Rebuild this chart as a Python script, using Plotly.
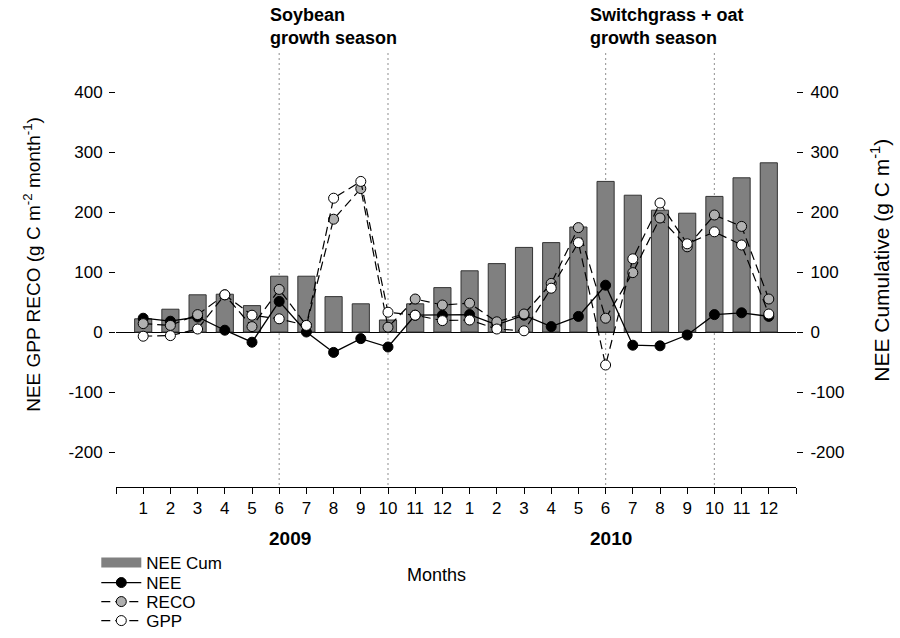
import plotly.graph_objects as go

# Monthly values, Jan 2009 - Dec 2010
month_index = list(range(1, 25))
month_labels = [str(m) for m in range(1, 13)] * 2

nee_cum = [22, 38, 62, 63, 44, 93, 93, 59, 47, 20, 47, 74,
           102, 114, 141, 149, 175, 251, 228, 203, 198, 226, 257, 282]
nee = [23, 18, 25, 3, -17, 51, 0, -34, -11, -25, 28, 28,
       29, 12, 28, 9, 26, 78, -22, -23, -5, 29, 32, 26]
reco = [14, 11, 29, 62, 9, 71, 11, 188, 239, 8, 55, 45,
        48, 17, 30, 81, 174, 23, 99, 190, 142, 195, 176, 55]
gpp = [-7, -6, 5, 62, 28, 22, 11, 223, 251, 33, 28, 19,
       20, 5, 2, 73, 149, -55, 122, 215, 147, 167, 145, 30]

season_bounds = [6, 10, 18, 22]
y_ticks = [-200, -100, 0, 100, 200, 300, 400]
y_tick_text = [str(v) for v in y_ticks]

FONT = "Liberation Sans, Arial, sans-serif"
Y_RANGE = [-258.3, 470]
BAR_FILL = "#808080"

fig = go.Figure()

# cumulative NEE bars (right axis); legend entry drawn as a wide swatch
fig.add_trace(go.Bar(
    x=month_index, y=nee_cum, name="NEE Cum", yaxis="y2", showlegend=False,
    legendgroup="cum",
    width=0.63, marker=dict(color=BAR_FILL, line=dict(color="#333333", width=1)),
))
fig.add_trace(go.Scatter(
    x=[None], y=[None], name="NEE Cum", mode="lines", yaxis="y2",
    legendgroup="cum", legend="legend", line=dict(color=BAR_FILL, width=13),
))
fig.add_trace(go.Scatter(
    x=month_index, y=nee, name="NEE", mode="lines+markers", yaxis="y", legend="legend2",
    line=dict(color="black", width=1.3),
    marker=dict(size=10, color="black", line=dict(color="black", width=1)),
))
fig.add_trace(go.Scatter(
    x=month_index, y=reco, name="RECO", mode="lines+markers", yaxis="y", legend="legend3",
    line=dict(color="black", width=1.2, dash="9px,5px"),
    marker=dict(size=10, color="#b0b0b0", line=dict(color="black", width=1)),
))
fig.add_trace(go.Scatter(
    x=month_index, y=gpp, name="GPP", mode="lines+markers", yaxis="y", legend="legend4",
    line=dict(color="black", width=1.2, dash="9px,5px"),
    marker=dict(size=10, color="white", line=dict(color="black", width=1)),
))

# growth season boundaries
for xb in season_bounds:
    fig.add_shape(type="line", xref="x", yref="paper", x0=xb, x1=xb, y0=0.006, y1=1,
                  line=dict(color="#444444", width=1.2, dash="1px,4px"), layer="below")

axis_font = dict(family=FONT, size=17, color="black")


def legend_row(y):
    return dict(
        xref="container", yref="container", x=0.107, y=y,
        xanchor="left", yanchor="middle",
        font=dict(family=FONT, size=17), bgcolor="rgba(0,0,0,0)",
        itemwidth=40,
    )


fig.update_layout(
    width=900, height=638,
    margin=dict(l=116, r=104, t=50, b=151, autoexpand=False),
    paper_bgcolor="white", plot_bgcolor="white",
    font=dict(family=FONT, size=16, color="black"),
    xaxis=dict(
        range=[0, 25], tickmode="array",
        tickvals=list(range(0, 26)),
        ticktext=[""] + month_labels + [""],
        ticks="outside", ticklen=6, tickcolor="black",
        showline=True, linecolor="black", linewidth=1,
        showgrid=False, zeroline=False, tickfont=axis_font,
    ),
    yaxis2=dict(
        range=Y_RANGE, side="right", tickvals=y_ticks, ticktext=y_tick_text,
        ticks="outside", ticklen=6, tickcolor="black",
        showline=False, showgrid=False,
        zeroline=True, zerolinecolor="black", zerolinewidth=1.3,
        tickfont=axis_font, ticklabelstandoff=4,
    ),
    yaxis=dict(
        range=Y_RANGE, side="left", overlaying="y2", tickvals=y_ticks, ticktext=y_tick_text,
        ticks="outside", ticklen=6, tickcolor="black",
        showline=False, showgrid=False, zeroline=False,
        tickfont=axis_font, ticklabelstandoff=3,
    ),
    showlegend=True,
    legend=legend_row(0.1176),
    legend2=legend_row(0.0862),
    legend3=legend_row(0.0564),
    legend4=legend_row(0.0266),
)

annotations = [
    # axis titles
    dict(text="NEE GPP RECO (g C m<sup>-2</sup> month<sup>-1</sup>)", textangle=-90,
         x=-0.124, y=0.51, xref="paper", yref="paper",
         xanchor="center", yanchor="middle", showarrow=False,
         font=dict(family=FONT, size=19)),
    dict(text="NEE Cumulative (g C m<sup>-1</sup>)", textangle=-90,
         x=1.1235, y=0.52, xref="paper", yref="paper",
         xanchor="center", yanchor="middle", showarrow=False,
         font=dict(family=FONT, size=21)),
    # season headers
    dict(text="<b>Soybean<br>growth season</b>", x=5.6, y=1.0, xref="x", yref="paper",
         xanchor="left", yanchor="bottom", align="left", showarrow=False,
         font=dict(family=FONT, size=18)),
    dict(text="<b>Switchgrass + oat<br>growth season</b>", x=17.35, y=1.0, xref="x", yref="paper",
         xanchor="left", yanchor="bottom", align="left", showarrow=False,
         font=dict(family=FONT, size=18)),
    # year labels and x title
    dict(text="<b>2009</b>", x=6.4, y=-0.117, xref="x", yref="paper",
         xanchor="center", yanchor="middle", showarrow=False, font=dict(family=FONT, size=19)),
    dict(text="<b>2010</b>", x=18.2, y=-0.117, xref="x", yref="paper",
         xanchor="center", yanchor="middle", showarrow=False, font=dict(family=FONT, size=19)),
    dict(text="Months", x=11.8, y=-0.202, xref="x", yref="paper",
         xanchor="center", yanchor="middle", showarrow=False, font=dict(family=FONT, size=18)),
]
fig.update_layout(annotations=annotations)

fig.write_html("out.html")
